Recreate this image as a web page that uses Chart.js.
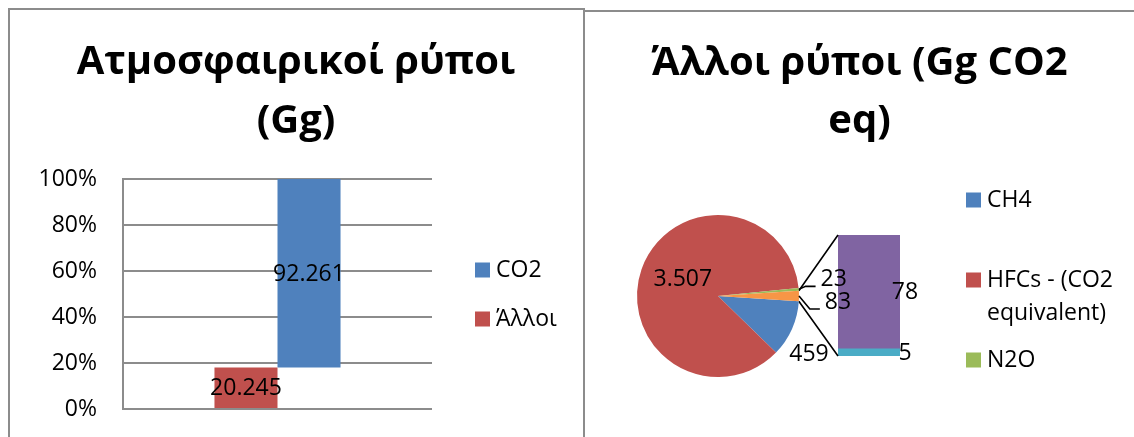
<!DOCTYPE html>
<html lang="el">
<head>
<meta charset="utf-8">
<title>Ρύποι</title>
<script src="https://cdn.jsdelivr.net/npm/chart.js@4.4.1/dist/chart.umd.min.js"></script>
<style>
  html, body { margin: 0; padding: 0; background: #fff; }
  #page { position: relative; width: 1134px; height: 437px; overflow: hidden; }
  .panel { position: absolute; border: 2px solid #8c8c8c; box-sizing: border-box; }
  #leftPanel { left: 8px; top: 8px; width: 577px; height: 460px; }
  #rightPanel { left: 583px; top: 10px; width: 600px; height: 460px; }
  canvas { position: absolute; left: 0; top: 0; }
</style>
</head>
<body>
<div id="page">
  <div class="panel" id="leftPanel"></div>
  <div class="panel" id="rightPanel"></div>
  <canvas id="chartRypoi" width="1134" height="437"></canvas>
  <canvas id="chartBarOfPie" width="1134" height="437"></canvas>
  <canvas id="chartPie" width="1134" height="437"></canvas>
</div>
<script>
// ατμοσφαιρικοί ρύποι (Gg)
const pollutantNames = ['CO2', 'Άλλοι'];
const pollutantGg = [92261, 20245];
const percentTickLabels = ['0%', '20%', '40%', '60%', '80%', '100%'];

// άλλοι ρύποι (Gg CO2 eq) - τα δύο τελευταία πάνε στη δευτερεύουσα στήλη
const gasNames = ['CH4', 'HFCs - (CO2 equivalent)', 'N2O', 'PFCs', 'SF6'];
const gasValues = [459, 3507, 23, 78, 5];
const otherName = 'Λοιπά';

const officeColors = ['#4F81BD', '#C0504D', '#9BBB59', '#8064A2', '#4BACC6', '#F79646'];
const FONT = '"Open Sans", sans-serif';
Chart.defaults.font.family = FONT;
Chart.defaults.color = '#000';

function grNumber(v) {
    // ελληνική μορφή: τελεία για χιλιάδες
    return String(v).replace(/\B(?=(\d{3})+(?!\d))/g, '.');
}

function wrapText(ctx, text, maxWidth) {
    const words = text.split(' ');
    const lines = [];
    let line = '';
    words.forEach(w => {
        const test = line ? line + ' ' + w : w;
        if (line && ctx.measureText(test).width > maxWidth) {
            lines.push(line);
            line = w;
        } else {
            line = test;
        }
    });
    lines.push(line);
    return lines;
}

// τίτλος και υπόμνημα κάθε πλαισίου
const panelText = {
    id: 'panelText',
    afterDraw(chart, args, opts) {
        const ctx = chart.ctx;
        ctx.save();
        ctx.fillStyle = '#000';
        if (opts.title) {
            const t = opts.title;
            ctx.font = 'bold ' + t.size + 'px ' + FONT;
            ctx.textAlign = 'center';
            ctx.textBaseline = 'alphabetic';
            t.lines.forEach((line, i) => ctx.fillText(line, t.x, t.y + i * t.lineHeight));
        }
        if (opts.legend) {
            const lg = opts.legend;
            ctx.font = lg.size + 'px ' + FONT;
            ctx.textAlign = 'left';
            ctx.textBaseline = 'middle';
            lg.items.forEach((item, i) => {
                const y = lg.ys[i];
                ctx.fillStyle = item.color;
                ctx.fillRect(lg.x, y - lg.box / 2, lg.box, lg.box);
                ctx.fillStyle = '#000';
                wrapText(ctx, item.text, lg.maxWidth).forEach((line, k) => {
                    ctx.fillText(line, lg.x + lg.box + 6, y + k * lg.lineHeight);
                });
            });
        }
        ctx.restore();
    }
};

// ---------- αριστερό γράφημα ----------
const totalGg = pollutantGg[0] + pollutantGg[1];
const otherShare = pollutantGg[1] / totalGg;

const barValueLabels = {
    id: 'barValueLabels',
    afterDatasetsDraw(chart) {
        const ctx = chart.ctx;
        ctx.save();
        ctx.font = '23px ' + FONT;
        ctx.fillStyle = '#000';
        ctx.textAlign = 'center';
        ctx.textBaseline = 'middle';
        chart.data.datasets.forEach((ds, i) => {
            chart.getDatasetMeta(i).data.forEach((bar, j) => {
                ctx.fillText(grNumber(ds.gg[j]), bar.x, (bar.y + bar.base) / 2 + 1);
            });
        });
        ctx.restore();
    }
};

const gridGray = '#8c8c8c';

new Chart(document.getElementById('chartRypoi'), {
    type: 'bar',
    data: {
        labels: [''],
        datasets: [{
            label: pollutantNames[1],
            data: [[0, otherShare]],
            gg: [pollutantGg[1]],
            backgroundColor: officeColors[1]
        }, {
            label: pollutantNames[0],
            data: [[otherShare, 1]],
            gg: [pollutantGg[0]],
            backgroundColor: officeColors[0]
        }]
    },
    options: {
        responsive: false,
        animation: false,
        events: [],
        categoryPercentage: 0.408,
        barPercentage: 1,
        layout: { padding: { left: 10, right: 1134 - 432, top: 179, bottom: 437 - 409 } },
        scales: {
            x: { display: false },
            y: {
                min: 0,
                max: 1,
                ticks: {
                    stepSize: 0.2,
                    padding: 0,
                    font: { size: 23 },
                    color: '#000',
                    callback: (v, i) => percentTickLabels[i]
                },
                // tick marks kept invisible, they only push the labels away from the axis
                grid: { color: gridGray, lineWidth: 2, drawTicks: true, tickLength: 26, tickColor: 'rgba(0,0,0,0)' },
                border: { color: gridGray, width: 2 },
                afterFit: s => { s.width = 113; }
            }
        },
        plugins: {
            legend: { display: false },
            tooltip: { enabled: false },
            panelText: {
                title: { lines: ['Ατμοσφαιρικοί ρύποι', '(Gg)'], x: 296, y: 74, lineHeight: 58.5, size: 40 },
                legend: {
                    x: 475, ys: [270, 319], box: 15, size: 23, lineHeight: 33, maxWidth: 140,
                    items: pollutantNames.map((n, i) => ({ text: n, color: officeColors[i] }))
                }
            }
        }
    },
    plugins: [barValueLabels, panelText]
});

// ---------- δεξί γράφημα: πίτα με στήλη ----------
const mainCount = 3;
const pieLabels = gasNames.slice(0, mainCount).concat([otherName]);
const otherSum = gasValues.slice(mainCount).reduce((a, b) => a + b, 0);
const pieValues = gasValues.slice(0, mainCount).concat([otherSum]);
const pieTotal = pieValues.reduce((a, b) => a + b, 0);

const pieValueLabels = {
    id: 'pieValueLabels',
    afterDatasetsDraw(chart, args, opts) {
        const ctx = chart.ctx;
        const meta = chart.getDatasetMeta(0);
        ctx.save();
        ctx.font = '23px ' + FONT;
        ctx.fillStyle = '#000';
        ctx.strokeStyle = '#000';
        ctx.lineWidth = 1.6;
        ctx.textAlign = 'center';
        ctx.textBaseline = 'middle';
        meta.data.forEach((arc, i) => {
            const p = opts.place[i];
            const mid = (arc.startAngle + arc.endAngle) / 2;
            const rr = (p.r || 1) * arc.outerRadius;
            const px = arc.x + Math.cos(mid) * rr;
            const py = arc.y + Math.sin(mid) * rr;
            const tx = px + p.dx;
            const ty = py + p.dy;
            const text = grNumber(chart.data.datasets[0].data[i]);
            ctx.fillText(text, tx, ty);
            if (p.leader) {
                const left = tx - ctx.measureText(text).width / 2;
                ctx.beginPath();
                ctx.moveTo(px, py);
                ctx.lineTo(left - 15, ty + 7);
                ctx.lineTo(left - 5, ty + 7);
                ctx.stroke();
            }
        });
        ctx.restore();
    }
};

const pieChart = new Chart(document.getElementById('chartPie'), {
    type: 'pie',
    data: {
        labels: pieLabels,
        datasets: [{
            data: pieValues,
            backgroundColor: [officeColors[0], officeColors[1], officeColors[2], officeColors[5]],
            borderWidth: 0
        }]
    },
    options: {
        responsive: false,
        animation: false,
        events: [],
        rotation: 90 + (otherSum / 2) / pieTotal * 360,
        layout: { padding: { left: 637, right: 1134 - 799, top: 215, bottom: 437 - 377 } },
        plugins: {
            legend: { display: false },
            tooltip: { enabled: false },
            pieValueLabels: {
                place: [
                    { dx: 17, dy: 26 },
                    { r: 0.46, dx: 0, dy: -4 },
                    { dx: 35, dy: -10, leader: true },
                    { dx: 39, dy: 6, leader: true }
                ]
            },
            panelText: {
                title: { lines: ['Άλλοι ρύποι (Gg CO2', 'eq)'], x: 859.5, y: 75, lineHeight: 57.5, size: 40 },
                legend: {
                    x: 966, ys: [200, 280, 360], box: 15, size: 23, lineHeight: 33, maxWidth: 140,
                    items: pieLabels.slice(0, mainCount).map((n, i) => ({ text: n, color: officeColors[i] }))
                }
            }
        }
    },
    plugins: [pieValueLabels, panelText]
});

// δευτερεύουσα στήλη με τις γραμμές σύνδεσης
const barOfPie = {
    id: 'barOfPie',
    afterDatasetsDraw(chart) {
        const ctx = chart.ctx;
        const arc = pieChart.getDatasetMeta(0).data[mainCount];
        const lower = chart.getDatasetMeta(0).data[0];
        const upper = chart.getDatasetMeta(1).data[0];
        const left = upper.x - upper.width / 2;
        ctx.save();
        ctx.strokeStyle = '#000';
        ctx.lineWidth = 1.6;
        ctx.beginPath();
        ctx.moveTo(arc.x + Math.cos(arc.startAngle) * arc.outerRadius, arc.y + Math.sin(arc.startAngle) * arc.outerRadius);
        ctx.lineTo(left, upper.y);
        ctx.moveTo(arc.x + Math.cos(arc.endAngle) * arc.outerRadius, arc.y + Math.sin(arc.endAngle) * arc.outerRadius);
        ctx.lineTo(left, lower.base);
        ctx.stroke();

        ctx.font = '23px ' + FONT;
        ctx.fillStyle = '#000';
        ctx.textAlign = 'center';
        ctx.textBaseline = 'middle';
        chart.data.datasets.forEach((ds, i) => {
            const el = chart.getDatasetMeta(i).data[0];
            ctx.fillText(grNumber(ds.data[0]), el.x + el.width / 2 + 5, (el.y + el.base) / 2 + 1);
        });
        ctx.restore();
    }
};

new Chart(document.getElementById('chartBarOfPie'), {
    type: 'bar',
    data: {
        labels: [otherName],
        datasets: [{
            label: gasNames[4],
            data: [gasValues[4]],
            backgroundColor: officeColors[4]
        }, {
            label: gasNames[3],
            data: [gasValues[3]],
            backgroundColor: officeColors[3]
        }]
    },
    options: {
        responsive: false,
        animation: false,
        events: [],
        categoryPercentage: 1,
        barPercentage: 1,
        layout: { padding: { left: 838, right: 1134 - 900, top: 235, bottom: 437 - 356 } },
        scales: {
            x: { display: false, stacked: true },
            y: { display: false, stacked: true, min: 0, max: otherSum }
        },
        plugins: {
            legend: { display: false },
            tooltip: { enabled: false }
        }
    },
    plugins: [barOfPie]
});
</script>
</body>
</html>
